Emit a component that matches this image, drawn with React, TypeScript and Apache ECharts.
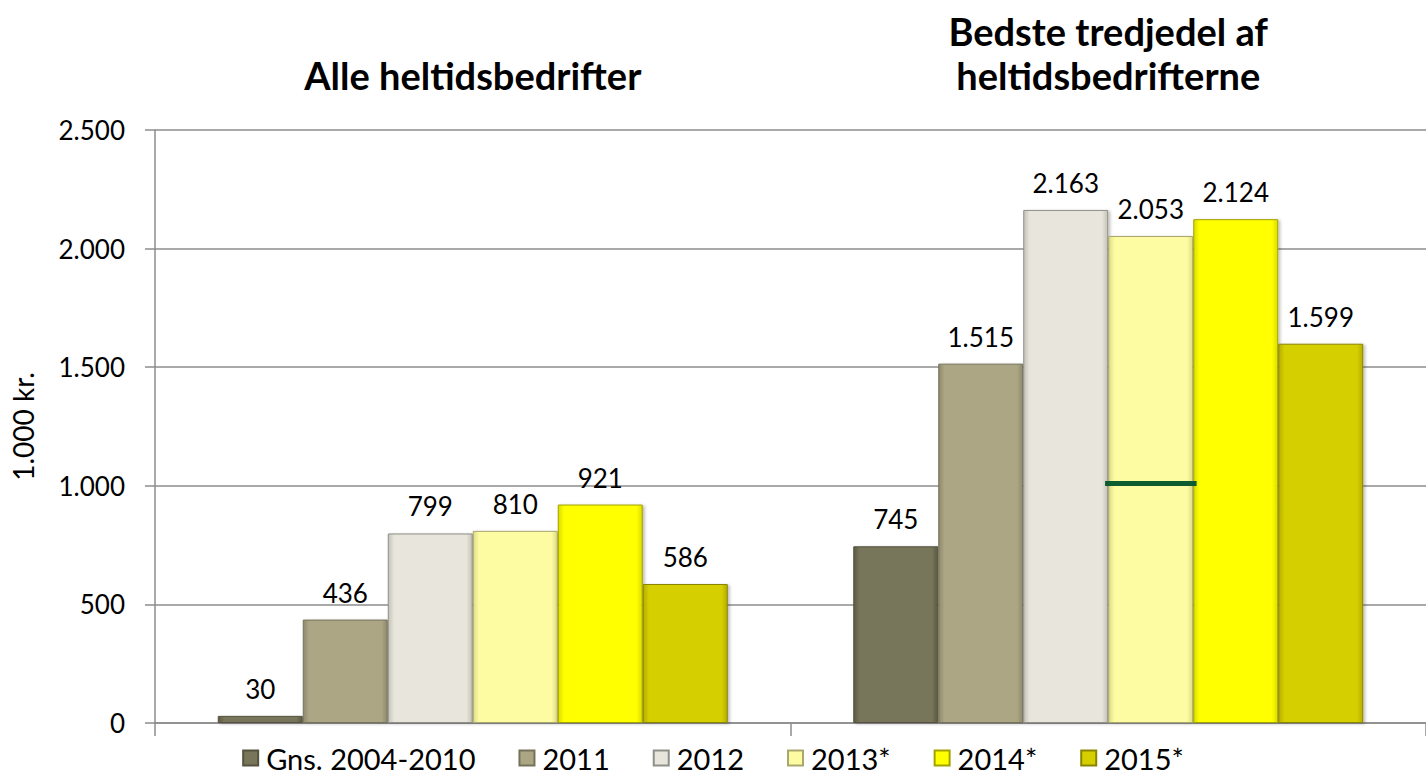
import React, { useEffect, useRef } from "react";
import * as echarts from "echarts";

const categories = ["Alle heltidsbedrifter", "Bedste tredjedel af\nheltidsbedrifterne"];
const seriesNames = ["Gns. 2004-2010", "2011", "2012", "2013*", "2014*", "2015*"];
const valuesGns = [30, 745];
const values2011 = [436, 1515];
const values2012 = [799, 2163];
const values2013 = [810, 2053];
const values2014 = [921, 2124];
const values2015 = [586, 1599];
const seriesColors = ["#77755a", "#aca685", "#e8e6dc", "#fdfca3", "#ffff00", "#d6cf00"];
const edgeColors = ["#5c5a44", "#8e8a6c", "#c4c2b6", "#dedc86", "#dcdc00", "#b5af00"];
const borderColors = ["#55533f", "#75725a", "#8f8f88", "#a9a76f", "#a3a300", "#8a8500"];
const yTicks = { min: 0, max: 2500, interval: 500 };
// stray green marker line: category index, value, start/end offsets as fractions of the category width from its centre
const markerCategory = 1;
const markerValue = 1010;
const markerSpan = [-0.005, 0.139];

const FONT = "Lato, 'Open Sans', sans-serif";
const fmt = (v: number) => String(v).replace(/\B(?=(\d{3})+(?!\d))/g, ".");

export default function App() {
  const ref = useRef<HTMLDivElement>(null);
  useEffect(() => {
    if (!ref.current) return;
    const chart = echarts.init(ref.current, null, { renderer: "svg" });
    const allValues = [valuesGns, values2011, values2012, values2013, values2014, values2015];
    const bars = seriesNames.map((name, i) => ({
      name,
      type: "bar",
      xAxisIndex: 0,
      yAxisIndex: 0,
      barWidth: 85,
      barGap: "0%",
      data: allValues[i],
      itemStyle: {
        color: new echarts.graphic.LinearGradient(0, 0, 1, 0, [
          { offset: 0, color: edgeColors[i] },
          { offset: 0.07, color: seriesColors[i] },
          { offset: 0.93, color: seriesColors[i] },
          { offset: 1, color: edgeColors[i] },
        ]),
        borderColor: borderColors[i],
        borderWidth: 1,
        shadowBlur: 3,
        shadowColor: "rgba(0,0,0,0.25)",
        shadowOffsetX: 2,
        shadowOffsetY: 1,
      },
      label: {
        show: true,
        position: "top",
        distance: 14,
        fontFamily: FONT,
        fontSize: 26,
        color: "#000",
        formatter: (p: any) => fmt(p.value),
      },
    }));
    chart.setOption({
      animation: false,
      textStyle: { fontFamily: FONT },
      grid: { left: 155, right: -5, top: 130, bottom: 52, containLabel: false },
      legend: {
        data: seriesNames.map((name, i) => ({ name, itemStyle: { color: seriesColors[i] } })),
        top: 743,
        left: "center",
        padding: 0,
        icon: "rect",
        itemWidth: 15,
        itemHeight: 15,
        itemGap: 43,
        textStyle: { fontFamily: FONT, fontSize: 29, lineHeight: 30, color: "#000", padding: [0, 0, 0, 3] },
      },
      xAxis: [
        {
          type: "category",
          data: categories,
          position: "bottom",
          axisLine: { show: true, lineStyle: { color: "#8c8c8c", width: 1.5 } },
          axisTick: { show: true, length: 13, lineStyle: { color: "#8c8c8c", width: 1.5 } },
          axisLabel: { show: false },
          splitLine: { show: false },
        },
        {
          type: "category",
          data: categories,
          position: "top",
          axisLine: { show: false },
          axisTick: { show: false },
          axisLabel: {
            show: true,
            interval: 0,
            margin: 33,
            fontFamily: FONT,
            fontWeight: "bold",
            fontSize: 38,
            lineHeight: 44,
            color: "#000",
          },
          splitLine: { show: false },
        },
      ],
      yAxis: {
        type: "value",
        min: yTicks.min,
        max: yTicks.max,
        interval: yTicks.interval,
        name: "1.000 kr.",
        nameLocation: "middle",
        nameRotate: 90,
        nameGap: 118,
        nameTextStyle: { fontFamily: FONT, fontSize: 28, color: "#000" },
        axisLine: { show: true, lineStyle: { color: "#8c8c8c", width: 1.5 } },
        axisTick: { show: true, length: 10, lineStyle: { color: "#8c8c8c", width: 1.5 } },
        axisLabel: {
          margin: 30,
          fontFamily: FONT,
          fontSize: 26,
          color: "#000",
          formatter: (v: number) => fmt(v),
        },
        splitLine: { show: true, lineStyle: { color: "#8c8c8c", width: 1.5 } },
      },
      series: [
        ...bars,
        {
          name: "marker",
          type: "custom",
          xAxisIndex: 0,
          yAxisIndex: 0,
          silent: true,
          z: 5,
          data: [[markerCategory, markerValue]],
          renderItem: (params: any, api: any) => {
            const p = api.coord([api.value(0), api.value(1)]);
            const band = api.size([1, 0])[0];
            return {
              type: "line",
              shape: {
                x1: p[0] + markerSpan[0] * band,
                y1: p[1],
                x2: p[0] + markerSpan[1] * band,
                y2: p[1],
              },
              style: {
                stroke: "#0d5c30",
                lineWidth: 5,
              },
            };
          },
        },
      ],
    });
    return () => chart.dispose();
  }, []);
  return (
    <div
      ref={ref}
      style={{ position: "absolute", left: 0, top: 0, width: 1426, height: 775, background: "#fff" }}
    />
  );
}
